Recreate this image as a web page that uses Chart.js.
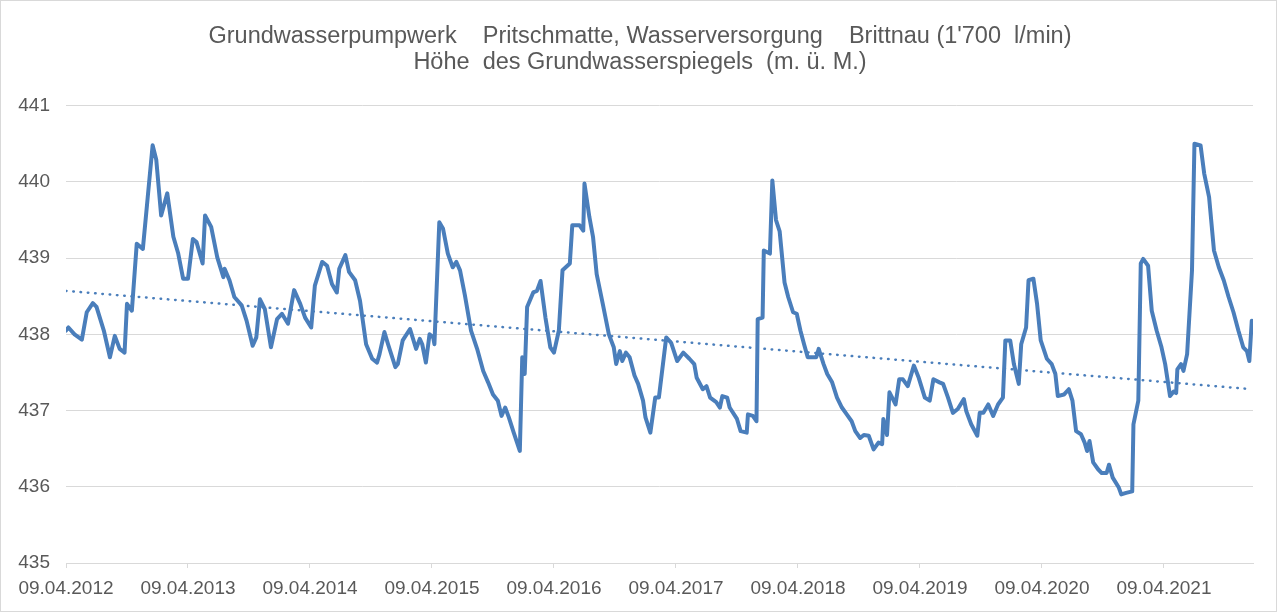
<!DOCTYPE html>
<html>
<head>
<meta charset="utf-8">
<script src="https://cdn.jsdelivr.net/npm/chart.js"></script>
<style>
  html, body { margin: 0; padding: 0; background: #fff; }
  canvas { display: block; }
</style>
</head>
<body>
<canvas id="chart" width="1280" height="614"></canvas>
<script>
// years since 09.04.2012
const yearOffset = [
  0.00, 0.02, 0.07, 0.13, 0.17, 0.22, 0.25, 0.31, 0.36, 0.40, 0.44, 0.48, 0.50, 0.54, 0.58, 0.63,
  0.67, 0.71, 0.74, 0.78, 0.83, 0.88, 0.92, 0.96, 1.00, 1.04, 1.07, 1.12, 1.14, 1.19, 1.24, 1.29,
  1.30, 1.34, 1.38, 1.44, 1.48, 1.53, 1.56, 1.59, 1.63, 1.68, 1.73, 1.77, 1.82, 1.87, 1.92, 1.96,
  2.01, 2.04, 2.10, 2.14, 2.18, 2.22, 2.24, 2.29, 2.32, 2.37, 2.41, 2.46, 2.51, 2.55, 2.57, 2.61,
  2.64, 2.70, 2.72, 2.76, 2.82, 2.87, 2.90, 2.92, 2.95, 2.98, 3.01, 3.02, 3.06, 3.09, 3.13, 3.17,
  3.20, 3.23, 3.27, 3.32, 3.37, 3.42, 3.46, 3.50, 3.54, 3.57, 3.60, 3.63, 3.67, 3.72, 3.74, 3.76,
  3.78, 3.83, 3.86, 3.89, 3.93, 3.97, 4.00, 4.04, 4.07, 4.13, 4.15, 4.21, 4.24, 4.25, 4.29, 4.32,
  4.35, 4.40, 4.45, 4.49, 4.51, 4.54, 4.56, 4.59, 4.62, 4.66, 4.69, 4.73, 4.75, 4.79, 4.83, 4.86,
  4.92, 4.96, 5.01, 5.06, 5.11, 5.15, 5.17, 5.22, 5.25, 5.28, 5.33, 5.36, 5.38, 5.42, 5.44, 5.50,
  5.53, 5.58, 5.59, 5.63, 5.66, 5.67, 5.71, 5.72, 5.77, 5.79, 5.82, 5.85, 5.89, 5.92, 5.96, 5.99,
  6.02, 6.05, 6.08, 6.13, 6.15, 6.17, 6.21, 6.24, 6.28, 6.32, 6.36, 6.40, 6.44, 6.47, 6.51, 6.54,
  6.58, 6.62, 6.66, 6.69, 6.70, 6.73, 6.75, 6.80, 6.83, 6.86, 6.90, 6.95, 6.99, 7.04, 7.08, 7.11,
  7.16, 7.19, 7.23, 7.27, 7.31, 7.36, 7.38, 7.42, 7.47, 7.49, 7.52, 7.56, 7.60, 7.64, 7.68, 7.70,
  7.74, 7.77, 7.81, 7.83, 7.87, 7.89, 7.93, 7.96, 7.99, 8.04, 8.08, 8.11, 8.13, 8.18, 8.22, 8.25,
  8.28, 8.32, 8.35, 8.37, 8.39, 8.42, 8.46, 8.49, 8.53, 8.55, 8.58, 8.63, 8.65, 8.69, 8.74, 8.75,
  8.79, 8.81, 8.83, 8.87, 8.90, 8.94, 8.98, 9.01, 9.05, 9.08, 9.10, 9.11, 9.14, 9.16, 9.19, 9.23,
  9.25, 9.30, 9.33, 9.37, 9.41, 9.45, 9.49, 9.53, 9.57, 9.61, 9.65, 9.68, 9.70, 9.72
];

// Höhe des Grundwasserspiegels (m ü. M.)
const level = [
  438.05, 438.09, 438.00, 437.93, 438.29, 438.41, 438.36, 438.05, 437.70, 437.98, 437.81, 437.76, 438.40, 438.31, 439.19, 439.12,
  439.80, 440.48, 440.29, 439.56, 439.85, 439.28, 439.06, 438.73, 438.73, 439.25, 439.21, 438.93, 439.56, 439.41, 439.01, 438.75,
  438.86, 438.71, 438.49, 438.38, 438.18, 437.85, 437.96, 438.46, 438.33, 437.83, 438.20, 438.27, 438.14, 438.58, 438.40, 438.22,
  438.09, 438.64, 438.95, 438.90, 438.66, 438.55, 438.86, 439.04, 438.82, 438.71, 438.44, 437.87, 437.68, 437.63, 437.74, 438.03,
  437.87, 437.57, 437.61, 437.92, 438.07, 437.81, 437.94, 437.87, 437.63, 438.00, 437.96, 437.87, 439.47, 439.39, 439.06, 438.88,
  438.95, 438.84, 438.51, 438.05, 437.81, 437.52, 437.37, 437.21, 437.13, 436.93, 437.04, 436.91, 436.71, 436.47, 437.70, 437.48,
  438.36, 438.55, 438.57, 438.70, 438.22, 437.83, 437.76, 438.05, 438.84, 438.93, 439.43, 439.43, 439.36, 439.98, 439.54, 439.28,
  438.79, 438.40, 438.00, 437.83, 437.61, 437.78, 437.65, 437.76, 437.70, 437.46, 437.35, 437.13, 436.91, 436.71, 437.17, 437.17,
  437.96, 437.89, 437.65, 437.76, 437.68, 437.61, 437.43, 437.28, 437.32, 437.17, 437.11, 437.04, 437.19, 437.17, 437.04, 436.89,
  436.73, 436.71, 436.95, 436.93, 436.86, 438.20, 438.22, 439.10, 439.06, 440.02, 439.50, 439.35, 438.68, 438.49, 438.29, 438.27,
  438.05, 437.87, 437.70, 437.70, 437.70, 437.81, 437.61, 437.48, 437.37, 437.17, 437.04, 436.95, 436.86, 436.73, 436.64, 436.68,
  436.67, 436.49, 436.58, 436.56, 436.89, 436.68, 437.24, 437.08, 437.41, 437.41, 437.32, 437.59, 437.43, 437.17, 437.13, 437.41,
  437.37, 437.35, 437.17, 436.97, 437.02, 437.15, 436.99, 436.82, 436.67, 436.97, 436.97, 437.08, 436.93, 437.08, 437.17, 437.92,
  437.92, 437.61, 437.35, 437.87, 438.09, 438.71, 438.73, 438.40, 437.92, 437.68, 437.61, 437.48, 437.19, 437.21, 437.28, 437.13,
  436.73, 436.69, 436.58, 436.47, 436.60, 436.32, 436.23, 436.18, 436.18, 436.29, 436.12, 435.99, 435.90, 435.92, 435.94, 436.82,
  437.13, 438.93, 438.99, 438.90, 438.31, 438.05, 437.83, 437.61, 437.19, 437.25, 437.23, 437.54, 437.61, 437.52, 437.74, 438.84,
  440.50, 440.48, 440.11, 439.80, 439.10, 438.88, 438.71, 438.49, 438.29, 438.05, 437.83, 437.78, 437.65, 438.18
];

// linear trend line, start and end
const trendX = [0, 9.72];
const trendY = [438.57, 437.28];

const tickLabels = [
  '09.04.2012', '09.04.2013', '09.04.2014', '09.04.2015', '09.04.2016',
  '09.04.2017', '09.04.2018', '09.04.2019', '09.04.2020', '09.04.2021'
];

const titleLines = [
  "Grundwasserpumpwerk    Pritschmatte, Wasserversorgung    Brittnau (1'700  l/min)",
  'Höhe  des Grundwasserspiegels  (m. ü. M.)'
];

const blue = '#4a7ebb';
const grey = '#d9d9d9';
const textColor = '#595959';
const fontFamily = '"Liberation Sans", Arial, sans-serif';

// thin frame around the chart, like the spreadsheet chart area
const framePlugin = {
  id: 'frame',
  beforeDraw(chart) {
    const ctx = chart.ctx;
    ctx.save();
    ctx.fillStyle = '#fff';
    ctx.fillRect(0, 0, chart.width, chart.height);
    ctx.strokeStyle = grey;
    ctx.lineWidth = 1;
    ctx.strokeRect(0.5, 0.5, 1276, 611);
    ctx.restore();
  }
};

const ctx = document.getElementById('chart').getContext('2d');
new Chart(ctx, {
  type: 'line',
  data: {
    datasets: [
      {
        label: 'Grundwasserspiegel',
        data: yearOffset.map((x, i) => ({ x: x, y: level[i] })),
        borderColor: blue,
        borderWidth: 4,
        pointRadius: 0,
        tension: 0,
        borderJoinStyle: 'round',
        borderCapStyle: 'round'
      },
      {
        label: 'Trend',
        data: trendX.map((x, i) => ({ x: x, y: trendY[i] })),
        borderColor: blue,
        borderWidth: 2.5,
        borderDash: [0.5, 6.8],
        borderCapStyle: 'round',
        pointRadius: 0
      }
    ]
  },
  options: {
    responsive: false,
    animation: false,
    layout: { padding: 0 },
    plugins: {
      legend: { display: false },
      tooltip: { enabled: false },
      title: {
        display: true,
        text: titleLines,
        color: textColor,
        font: { family: fontFamily, size: 23.5, weight: 'normal', lineHeight: 1.1 },
        padding: { top: 24, bottom: 30 }
      }
    },
    scales: {
      x: {
        type: 'linear',
        min: 0,
        max: 9.73,
        afterBuildTicks: (scale) => {
          scale.ticks = tickLabels.map((_, i) => ({ value: i }));
        },
        afterFit: (scale) => { scale.height = 51; },
        ticks: {
          autoSkip: false,
          maxRotation: 0,
          color: textColor,
          font: { family: fontFamily, size: 19 },
          padding: 9,
          callback: (v) => tickLabels[v]
        },
        grid: {
          drawOnChartArea: false,
          drawTicks: true,
          tickLength: 5,
          color: grey
        },
        border: { display: true, color: grey, width: 1 }
      },
      y: {
        min: 435,
        max: 441,
        afterFit: (scale) => { scale.width = 66; },
        ticks: {
          stepSize: 1,
          color: textColor,
          font: { family: fontFamily, size: 19 },
          padding: 16
        },
        grid: { color: grey, drawTicks: false, lineWidth: 1 },
        border: { display: false }
      },
      // empty right margin so the title stays centred on the whole picture
      yRight: {
        position: 'right',
        min: 435,
        max: 441,
        afterFit: (scale) => { scale.width = 27; },
        ticks: { display: false },
        grid: { drawOnChartArea: false, drawTicks: false },
        border: { display: false }
      }
    }
  },
  plugins: [framePlugin]
});
</script>
</body>
</html>
